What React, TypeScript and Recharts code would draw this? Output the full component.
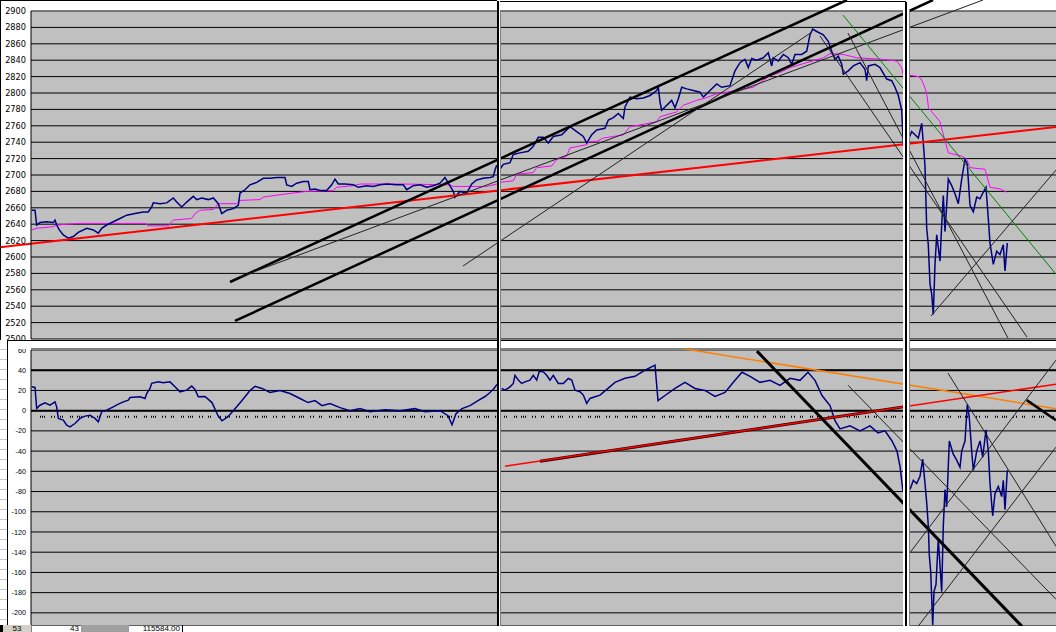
import React from 'react';
import { ComposedChart, Line, XAxis, YAxis, CartesianGrid, ReferenceLine } from 'recharts';

// ---------- tick labels ----------
const topTicks = [2500, 2520, 2540, 2560, 2580, 2600, 2620, 2640, 2660, 2680, 2700, 2720, 2740, 2760, 2780, 2800, 2820, 2840, 2860, 2880, 2900];
const botTicks = [-200, -180, -160, -140, -120, -100, -80, -60, -40, -20, 0, 20, 40, 60];

// ---------- top panel: index price (bar index, value) ----------
const topPriceLeft = [
  [0.7, 2657], [4, 2657], [5.7, 2639], [9, 2642], [15.7, 2643], [22.3, 2642], [24, 2645], [25.7, 2639], [28.3, 2633], [32.3, 2627],
  [37.3, 2623], [42.3, 2625], [47.3, 2630], [55.7, 2635], [62.3, 2633], [67.3, 2629], [70.7, 2635], [75.7, 2639], [82.3, 2643], [89, 2647],
  [95.7, 2651], [104, 2653], [112.3, 2655], [117.3, 2655], [120.7, 2661], [122.3, 2666], [129, 2665], [135.7, 2666], [142.3, 2672], [145.7, 2667],
  [150.7, 2661], [155.7, 2667], [162.3, 2674], [165.7, 2670], [170.7, 2672], [177.3, 2670], [182.3, 2672], [187.3, 2665], [190.7, 2653], [195.7, 2657],
  [202.3, 2659], [207.3, 2663], [209, 2678], [214, 2682], [219, 2688], [225.7, 2691], [232.3, 2696], [239, 2696], [245.7, 2697], [254, 2697],
  [255.7, 2688], [260.7, 2686], [265.7, 2690], [272.3, 2692], [277.3, 2692], [279, 2682], [284, 2683], [289, 2681], [295.7, 2681], [300.7, 2688],
  [304, 2695], [307.3, 2689], [314, 2689], [322.3, 2688], [327.3, 2685], [335.7, 2687], [342.3, 2686], [349, 2688], [355.7, 2689], [365.7, 2688],
  [372.3, 2688], [375.7, 2682], [382.3, 2687], [389, 2688], [395.7, 2685], [402.3, 2687], [409, 2690], [414, 2697], [417.3, 2690], [422.3, 2680],
  [424, 2673], [429, 2680], [435.7, 2678], [440.7, 2689], [445.7, 2694], [452.3, 2696], [459, 2697], [462.3, 2698], [464, 2706], [465.7, 2712],
];
const topPriceMid = [
  [469, 2707], [472.3, 2713], [479, 2715], [482.3, 2725], [489, 2727], [497.3, 2729], [502.3, 2735], [507.3, 2746], [512.3, 2746], [517.3, 2739],
  [522.3, 2747], [530.7, 2749], [539, 2759], [545.7, 2753], [552.3, 2747], [555.7, 2739], [560.7, 2749], [565.7, 2755], [574, 2757], [577.3, 2767],
  [582.3, 2770], [587.3, 2775], [592.3, 2769], [594, 2783], [599, 2795], [605.7, 2793], [612.3, 2794], [619, 2797], [625.7, 2803], [627.3, 2807],
  [629, 2789], [630.7, 2779], [634, 2783], [640.7, 2791], [644, 2782], [647.3, 2793], [650.7, 2807], [655.7, 2805], [662.3, 2803], [669, 2801],
  [672.3, 2795], [679, 2803], [685.7, 2811], [690.7, 2807], [699, 2809], [704, 2827], [709, 2837], [714, 2841], [717.3, 2831], [720.7, 2842],
  [725.7, 2840], [732.3, 2843], [737.3, 2849], [740.7, 2833], [742.3, 2843], [747.3, 2839], [752.3, 2847], [757.3, 2843], [760.7, 2835], [764, 2847],
  [770.7, 2847], [775.7, 2851], [779, 2871], [781.7, 2878], [785.7, 2875], [792.3, 2871], [797.3, 2863], [800.7, 2851], [804, 2841], [807.3, 2845],
  [810.7, 2835], [812.3, 2823], [817.3, 2827], [822.3, 2833], [829, 2837], [834, 2829], [835.7, 2815], [837.3, 2833], [844, 2835], [849, 2831],
  [855.7, 2817], [860.7, 2815], [864, 2807], [867.3, 2797], [870.7, 2779], [872.3, 2737], [875.7, 2739],
];
const topPriceRight = [
  [877.3, 2743], [880.7, 2753], [884, 2749], [887.3, 2745], [890.7, 2763], [892.3, 2739], [894, 2711], [895.7, 2635], [897.3, 2615], [899, 2567],
  [900.7, 2555], [902.3, 2530], [904, 2591], [905.7, 2627], [909, 2595], [910.7, 2639], [912.3, 2675], [914, 2631], [917.3, 2695], [920.7, 2687],
  [924, 2677], [927.3, 2665], [930.7, 2695], [934, 2719], [936.3, 2713], [939, 2663], [942.3, 2655], [945.7, 2673], [949, 2671], [952.3, 2679],
  [955, 2685], [957.3, 2647], [959, 2617], [962.3, 2591], [965.7, 2607], [969, 2603], [972.3, 2615], [974, 2583], [976.3, 2617],
];

// ---------- top panel: magenta average ----------
const topAvgLeft = [
  [0.7, 2633], [5.7, 2635], [22.3, 2637], [25.7, 2639], [47.3, 2641], [114, 2641], [117.3, 2638], [137.3, 2638], [142.3, 2645], [160.7, 2647],
  [164, 2653], [169, 2657], [182.3, 2658], [187.3, 2665], [205.7, 2665], [209, 2669], [229, 2670], [232.3, 2673], [249, 2676], [262.3, 2678],
  [275.7, 2680], [302.3, 2681], [305.7, 2685], [322.3, 2687], [329, 2689], [372.3, 2689], [419, 2688], [422.3, 2686], [455.7, 2686], [465.7, 2689],
];
const topAvgMid = [
  [469, 2691], [482.3, 2693], [485.7, 2701], [502.3, 2703], [505.7, 2709], [520.7, 2711], [525.7, 2719], [535.7, 2723], [539, 2733], [555.7, 2737],
  [559, 2741], [565.7, 2741], [572.3, 2745], [592.3, 2749], [599, 2759], [609, 2761], [625.7, 2765], [629, 2771], [645.7, 2777], [652.3, 2785],
  [665.7, 2791], [672.3, 2793], [685.7, 2799], [705.7, 2803], [722.3, 2807], [739, 2821], [749, 2825], [759, 2831], [775.7, 2837], [792.3, 2843],
  [799, 2848], [812.3, 2847], [825.7, 2843], [852.3, 2841], [865.7, 2839], [870.7, 2831], [872.3, 2821],
];
const topAvgRight = [
  [877, 2822], [888, 2820], [891, 2815], [894, 2806], [896, 2797], [897.5, 2782], [905, 2771], [909, 2765], [912.3, 2749], [917.3, 2727],
  [930.7, 2723], [935.7, 2719], [939, 2709], [954, 2707], [959, 2685], [969, 2683], [975.7, 2679],
];

// ---------- top panel trend lines (two end points each) ----------
const topRedTrend = [[-31, 2612], [1025, 2758.5]];
const topChannelUpper = [[199, 2569.5], [816, 2913.4]];
const topChannelLower = [[204, 2522], [902, 2913.4]];
const topThinUp1 = [[209, 2575.6], [952, 2913.4]];
const topThinUp2 = [[432, 2589], [781, 2874.4]];
const topGreenDown = [[812, 2895], [1025, 2579]];
const topThinDown1 = [[817, 2873], [977, 2501]];
const topThinDown2 = [[789, 2869.5], [996, 2502.4]];
const topThinUp3 = [[900, 2528], [1025, 2706]];

// ---------- bottom panel: oscillator ----------
const botOscLeft = [
  [0.7, 23.6], [4, 23], [5.7, 2.2], [9, 5.4], [14, 7.7], [19, 5.4], [24, 8.7], [25.7, 3.8], [27.3, -7.7], [32.3, -9.4],
  [35.7, -14.4], [39, -16], [44, -12.7], [49, -7.7], [54, -5.4], [59, -4.5], [64, -7.7], [67.3, -11], [70.7, -1.2], [75.7, 0.5],
  [82.3, 3.8], [87.3, 6.4], [92.3, 8.7], [97.3, 10.4], [99, 13], [109, 13.7], [114, 12], [115.7, 17], [119, 22], [120.7, 27],
  [127.3, 28.5], [132.3, 27.5], [139, 28.5], [144, 23.6], [149, 18.6], [155.7, 20.3], [160.7, 24.3], [164, 21], [167.3, 13.7], [174, 14],
  [181, 8], [187, -5], [191, -10], [197, -6], [204, 2], [211, 10], [219, 20], [224, 24], [231, 22], [239, 18],
  [249, 20], [259, 17], [269, 12], [277, 8], [284, 10], [291, 5], [299, 7], [309, 3], [319, 0], [329, 2],
  [339, -1], [354, 1], [369, 0], [384, 2], [394, -1], [409, 0], [417, -5], [421, -14], [425, -3], [431, 2],
  [439, 5], [447, 10], [454, 14], [459, 18], [463, 22], [466, 26],
];
const botOscMid = [
  [470.7, 22], [474, 20.3], [479, 23.6], [482.3, 26.9], [484, 35], [487.3, 30.2], [490.7, 26.9], [494, 28.5], [499, 30.2], [502.3, 35],
  [505.7, 30.2], [508.3, 39], [512.3, 38.4], [515.7, 35], [519, 30.2], [522.3, 35], [527.3, 26.9], [532.3, 26.9], [537.3, 31.8], [540.7, 30.2],
  [544, 20.3], [549, 18.7], [552.3, 15.4], [555.7, 7.2], [559, 12.1], [564, 13.8], [569, 15.4], [577, 22], [584, 28], [594, 32],
  [604, 34], [614, 40], [624, 45], [627, 10], [634, 15], [644, 22], [654, 28], [664, 22], [674, 20], [684, 14],
  [694, 18], [704, 30], [711, 38], [719, 34], [729, 28], [739, 30], [749, 25], [759, 32], [769, 30], [777, 38],
  [784, 30], [791, 15], [799, 5], [804, -10], [809, -18], [819, -15], [829, -20], [839, -15], [847, -22], [854, -20],
  [861, -30], [866, -40], [869, -55], [872, -80], [874, -65],
];
const botOscRight = [
  [879, -78], [882.3, -69], [885.7, -72], [889, -65], [891.7, -48], [894, -72], [895.7, -91], [897.3, -114], [898.3, -143], [899.7, -159],
  [901.7, -212], [903, -179], [905, -172], [907.3, -127], [909, -153], [910.7, -179], [912.3, -114], [914, -78], [915.7, -95], [918.3, -30],
  [922.3, -43], [925.7, -49], [929, -56], [930.7, -40], [934, -30], [936.3, 6], [938.3, -7], [940.7, -40], [942.3, -59], [945.7, -40],
  [949, -30], [951.7, -46], [955, -19], [957.3, -40], [959, -72], [961.7, -104], [964, -82], [967.3, -75], [970.7, -85], [972.3, -69],
  [974, -98], [976.3, -59],
];

// ---------- bottom panel trend lines ----------
const botOrangeDown = [[642, 62.9], [1025, 2]];
const botRedUp = [[474, -55], [1025, 26.2]];
const botRedUnder = [[509, -50], [874, 4]];
const botThickDown = [[726, 58.9], [991, -213.4]];
const botThickShort = [[995.7, 10.4], [1025, -9.4]];
const botThinDown1 = [[817, 25.2], [1025, -186.6]];
const botThinDown2 = [[917, 37.1], [1025, -134.2]];
const botThinUp1 = [[874, -147], [1025, 50]];
const botThinUp2 = [[887, -213.4], [1025, -36.1]];
const botMarkerRow = [[9, -6], [1025, -6]];

// ---------- status bar ----------
const statusCells = ['53', '43', '', '115584.00'];

const pts = (a: number[][]) => a.map(([t, v]) => ({ t, v }));
const seg = (s: number[][]) => [{ x: s[0][0], y: s[0][1] }, { x: s[1][0], y: s[1][1] }];

const NAVY = '#000080';
const MAG = '#ff00ff';

export default function App() {
  const refLine = (s: number[][], color: string, w: number, key: string, dash?: string) => (
    <ReferenceLine
      key={key}
      segment={seg(s)}
      stroke={color}
      strokeWidth={w}
      strokeDasharray={dash}
      ifOverflow="visible"
    />
  );
  const series = (d: number[][], color: string, w: number, key: string) => (
    <Line
      key={key}
      data={pts(d)}
      dataKey="v"
      type="linear"
      stroke={color}
      strokeWidth={w}
      dot={false}
      activeDot={false}
      isAnimationActive={false}
      legendType="none"
    />
  );

  const box = (l: number, t: number, w: number, h: number, bg: string, extra: React.CSSProperties = {}) => (
    <div style={{ position: 'absolute', left: l, top: t, width: w, height: h, background: bg, ...extra }} />
  );

  return (
    <div style={{ position: 'absolute', left: 0, top: 0, width: 1056, height: 632, background: '#fff', overflow: 'hidden' }}>
      {/* TOP PANEL */}
      <div style={{ position: 'absolute', left: 0, top: 0 }}>
        <ComposedChart width={1056} height={340} margin={{ top: 11, right: 0, bottom: 1, left: 0 }}>
          <CartesianGrid vertical={false} fill="#c0c0c0" stroke="#000" strokeWidth={1} />
          <XAxis type="number" dataKey="t" domain={[0, 1025]} hide allowDataOverflow />
          <YAxis
            type="number"
            domain={[2500, 2900]}
            ticks={topTicks}
            interval={0}
            width={31}
            tickSize={0}
            tickMargin={5}
            tickLine={false}
            axisLine={{ stroke: '#000' }}
            tick={{ fontSize: 8.2, fontFamily: 'DejaVu Sans', fill: '#000' }}
            allowDataOverflow
          />
          <ReferenceLine y={2900} stroke="#808080" />
          {series(topAvgLeft, MAG, 1, 'mA')}
          {series(topAvgMid, MAG, 1, 'mB')}
          {series(topAvgRight, MAG, 1, 'mC')}
          {series(topPriceLeft, NAVY, 1.5, 'pA')}
          {series(topPriceMid, NAVY, 1.5, 'pB')}
          {series(topPriceRight, NAVY, 1.5, 'pC')}
          {refLine(topRedTrend, '#ff0000', 2, 'r1')}
          {refLine(topChannelUpper, '#000', 2.5, 'c1')}
          {refLine(topChannelLower, '#000', 2.5, 'c2')}
          {refLine(topThinUp1, '#222', 1, 't1')}
          {refLine(topThinUp2, '#222', 1, 't2')}
          {refLine(topGreenDown, '#008000', 1, 'g1')}
          {refLine(topThinDown1, '#222', 1, 't3')}
          {refLine(topThinDown2, '#222', 1, 't4')}
          {refLine(topThinUp3, '#222', 1, 't5')}
        </ComposedChart>
      </div>

      {/* BOTTOM PANEL */}
      <div style={{ position: 'absolute', left: 0, top: 340 }}>
        <ComposedChart width={1056} height={286} margin={{ top: 10, right: 0, bottom: 0, left: 0 }}>
          <CartesianGrid vertical={false} fill="#c0c0c0" stroke="#000" strokeWidth={1} />
          <XAxis type="number" dataKey="t" domain={[0, 1025]} hide allowDataOverflow />
          <YAxis
            type="number"
            domain={[-213, 60]}
            ticks={botTicks}
            interval={0}
            width={31}
            tickSize={0}
            tickMargin={5}
            tickLine={false}
            axisLine={{ stroke: '#000' }}
            tick={{ fontSize: 7.2, fontFamily: 'Liberation Sans', fill: '#000' }}
            allowDataOverflow
          />
          <ReferenceLine y={60} stroke="#808080" />
          <ReferenceLine y={40} stroke="#000" strokeWidth={2} />
          <ReferenceLine y={0} stroke="#000" strokeWidth={2} />
          {refLine(botMarkerRow, '#000', 2, 'mk', '1 1 1 1 1 6 1 2 1 5 1 1 1 7 1 1 1 4')}
          {series(botOscLeft, NAVY, 1.5, 'oA')}
          {series(botOscMid, NAVY, 1.5, 'oB')}
          {series(botOscRight, NAVY, 1.5, 'oC')}
          {refLine(botOrangeDown, '#ff8000', 1.5, 'o1')}
          {refLine(botRedUnder, '#300000', 3, 'ru')}
          {refLine(botRedUp, '#ff0000', 1.5, 'r2')}
          {refLine(botThickDown, '#000', 3, 'k1')}
          {refLine(botThickShort, '#000', 2.5, 'k2')}
          {refLine(botThinDown1, '#222', 1, 'b1')}
          {refLine(botThinDown2, '#222', 1, 'b2')}
          {refLine(botThinUp1, '#222', 1, 'b3')}
          {refLine(botThinUp2, '#222', 1, 'b4')}
        </ComposedChart>
      </div>

      {/* window frames / separators */}
      {box(0, 0, 497, 1, '#000')}
      {box(497, 1, 409, 1, '#000')}
      {box(0, 0, 1, 340, '#000')}
      {/* horizontal band between windows */}
      {box(7, 340, 1049, 9, '#fff')}
      {box(7, 340, 1049, 1, '#000')}
      {box(31, 348, 1025, 1, '#808080')}
      {/* left margin of lower window */}
      {box(0, 340, 7, 286, '#fff', { backgroundImage: 'repeating-linear-gradient(to bottom, #fff 0px, #fff 9px, #c8c8c8 9px, #c8c8c8 10px)' })}
      {box(7, 340, 1, 286, '#000')}
      {/* separator 1 */}
      {box(497, 1, 2, 625, '#000')}
      {box(499, 1, 1, 625, '#fff')}
      {box(500, 11, 1, 615, '#808080')}
      {/* separator 2 */}
      {box(903, 2, 6, 624, '#fff')}
      {box(905, 2, 2, 624, '#000')}
      {box(909, 10, 1, 616, '#808080')}
      {/* bottom strip */}
      {box(0, 626, 1056, 6, '#fff')}
      <div style={{ position: 'absolute', left: 0, top: 625, height: 7, width: 184, overflow: 'hidden', fontFamily: 'Liberation Sans', fontSize: 8, lineHeight: '7px', color: '#000' }}>
        <div style={{ position: 'absolute', left: 0, top: 0, width: 3, height: 7, background: '#000' }} />
        <div style={{ position: 'absolute', left: 3, top: 0, width: 28, height: 7, background: '#d4d0c8', textAlign: 'center' }}>{statusCells[0]}</div>
        <div style={{ position: 'absolute', left: 31, top: 0, width: 1, height: 7, background: '#808080' }} />
        <div style={{ position: 'absolute', left: 32, top: 0, width: 47, height: 7, textAlign: 'right' }}>{statusCells[1]}</div>
        <div style={{ position: 'absolute', left: 81, top: 0, width: 48, height: 7, background: '#a0a0a0' }}>{statusCells[2]}</div>
        <div style={{ position: 'absolute', left: 129, top: 0, width: 51, height: 7, textAlign: 'right' }}>{statusCells[3]}</div>
        <div style={{ position: 'absolute', left: 182, top: 0, width: 1, height: 7, background: '#000' }} />
      </div>
    </div>
  );
}
